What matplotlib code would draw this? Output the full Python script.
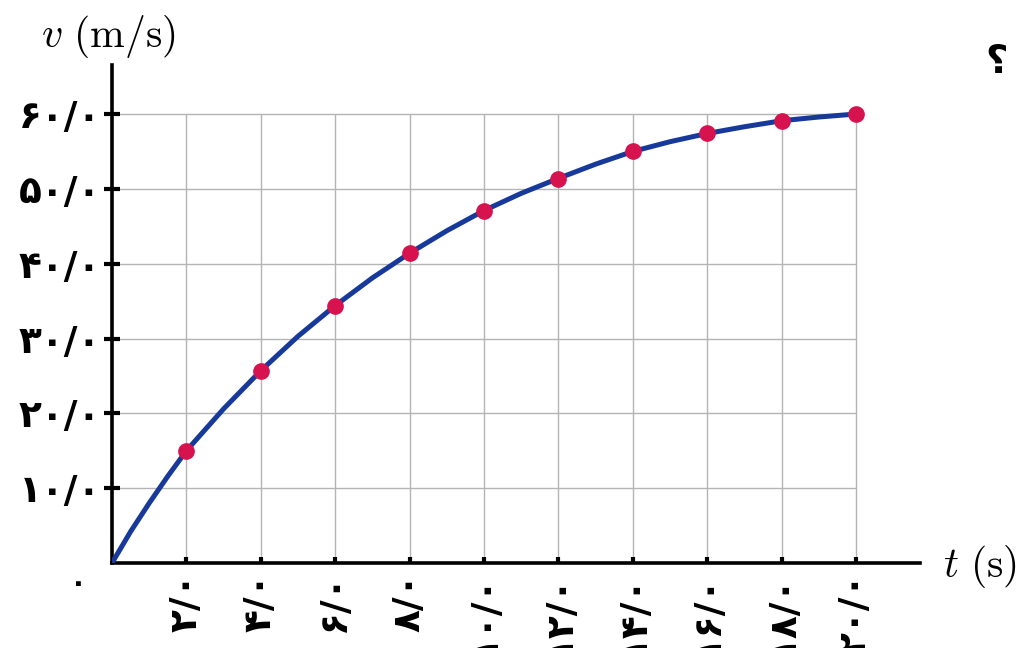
import matplotlib
matplotlib.use("Agg")
import matplotlib.pyplot as plt

plt.rcParams['mathtext.fontset'] = 'cm'

# measured points (dots)
t_pts = [2, 4, 6, 8, 10, 12, 14, 16, 18, 20]
v_pts = [15.0, 25.7, 34.4, 41.4, 47.1, 51.3, 55.0, 57.4, 59.1, 60.0]

# curve
t_curve = [0, 0.5, 1, 1.5, 2, 3, 4, 5, 6, 7, 8, 9, 10, 11, 12, 13, 14, 15, 16, 17, 18, 19, 20]
v_curve = [0, 4.2, 8.0, 11.6, 15.0, 20.6, 25.7, 30.3, 34.4, 38.1, 41.4, 44.4, 47.1,
           49.4, 51.4, 53.3, 55.0, 56.3, 57.4, 58.3, 59.1, 59.6, 60.0]

x_ticks = [2, 4, 6, 8, 10, 12, 14, 16, 18, 20]
x_labels = ['۲/۰', '۴/۰', '۶/۰', '۸/۰', '۱۰/۰', '۱۲/۰', '۱۴/۰', '۱۶/۰', '۱۸/۰', '۲۰/۰']
y_ticks = [10, 20, 30, 40, 50, 60]
y_labels = ['۱۰/۰', '۲۰/۰', '۳۰/۰', '۴۰/۰', '۵۰/۰', '۶۰/۰']

W, H = 1020, 648
fig = plt.figure(figsize=(W / 100, H / 100), dpi=100)
# axes: x=0 at px 112, x=20 at px 856; y=0 at px 563, y=60 at px 114
ax = fig.add_axes([112 / W, (H - 563) / H, 808 / W, 498 / H])
ax.set_xlim(0, 808 / 37.2)
ax.set_ylim(0, 498 / 7.483)

# grid only inside the 20 x 60 box
ax.vlines(x_ticks, 0, 60, color='#b4b4b4', lw=1.0, zorder=1)
ax.hlines(y_ticks, 0, 20, color='#b4b4b4', lw=1.0, zorder=1)

ax.plot(t_curve, v_curve, color='#17399a', lw=3.6, solid_capstyle='round',
        solid_joinstyle='round', zorder=3)
ax.plot(t_pts, v_pts, 'o', color='#d6124f', ms=11, zorder=4)

for s in ['top', 'right']:
    ax.spines[s].set_visible(False)
for s in ['left', 'bottom']:
    ax.spines[s].set_linewidth(2.6)
    ax.spines[s].set_color('black')

ax.set_xticks(x_ticks)
ax.set_xticklabels(x_labels, rotation=90, fontsize=27, fontweight='bold',
                   family=['DejaVu Sans'], va='top')
ax.set_yticks(y_ticks)
ax.set_yticklabels(y_labels, fontsize=27, fontweight='bold', family=['DejaVu Sans'])
ax.tick_params(axis='x', direction='in', length=4.5, width=3, pad=7)
ax.tick_params(axis='y', direction='inout', length=12, width=3, pad=2)

# origin label
ax.text(-0.9, -0.8, '۰', ha='center', va='top', fontsize=20, fontweight='bold',
        family=['DejaVu Sans'], clip_on=False)

fig.text(108 / W, 1 - 36 / H, r'$v\ (\mathrm{m/s})$', ha='center', va='center', fontsize=30)
fig.text(980 / W, 1 - 566 / H, r'$t\ (\mathrm{s})$', ha='center', va='center', fontsize=30)
fig.text(985 / W, 1 - 62 / H, '؟', ha='left', va='center', fontsize=28,
         fontweight='bold', family=['DejaVu Sans'])

fig.savefig('out.png', dpi=100)
